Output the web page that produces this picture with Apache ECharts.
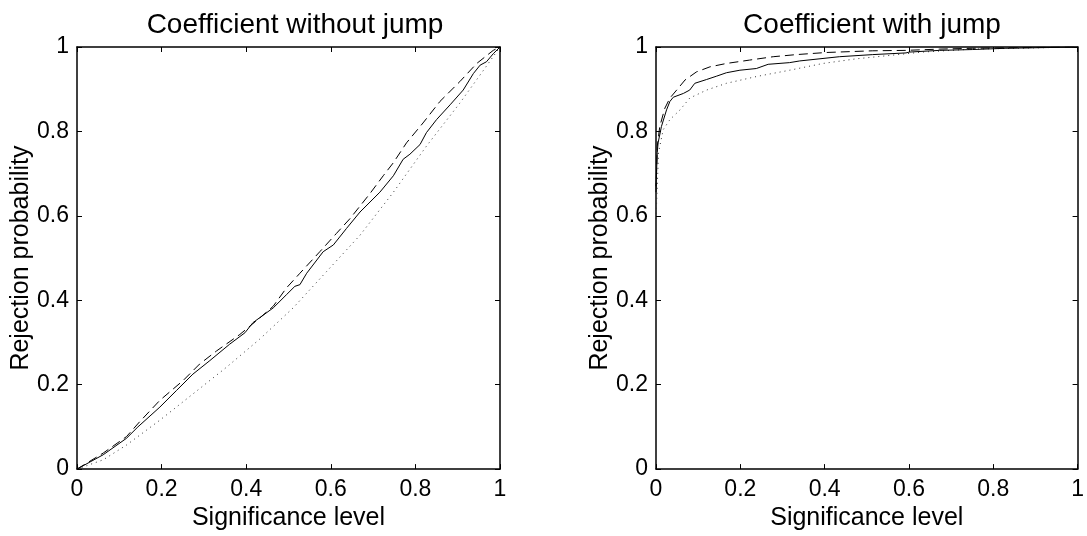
<!DOCTYPE html>
<html>
<head>
<meta charset="utf-8">
<script src="https://cdn.jsdelivr.net/npm/echarts@6/dist/echarts.min.js"></script>
<style>
  html, body { margin: 0; padding: 0; background: #fff; }
  #chart { width: 1087px; height: 536px; }
</style>
</head>
<body>
<div id="chart"></div>
<script>
// left panel: coefficient without jump  [significance level, rejection probability]
var noJumpSolid = [[0,0],[0.062,0.034],[0.117,0.073],[0.144,0.10],[0.196,0.147],[0.235,0.186],[0.274,0.225],
  [0.314,0.257],[0.361,0.296],[0.397,0.323],[0.416,0.347],[0.464,0.382],[0.495,0.413],[0.515,0.433],[0.527,0.437],
  [0.543,0.464],[0.582,0.515],[0.606,0.531],[0.637,0.570],[0.669,0.609],[0.716,0.656],[0.748,0.695],[0.771,0.734],
  [0.787,0.746],[0.811,0.769],[0.826,0.797],[0.850,0.828],[0.882,0.863],[0.913,0.898],[0.937,0.937],[0.953,0.957],
  [0.968,0.965],[0.984,0.984],[1,1]];
var noJumpDashed = [[0,0],[0.062,0.038],[0.117,0.077],[0.148,0.112],[0.196,0.163],[0.251,0.210],[0.290,0.249],
  [0.330,0.280],[0.385,0.319],[0.432,0.358],[0.464,0.386],[0.495,0.429],[0.527,0.464],[0.574,0.515],[0.613,0.558],
  [0.645,0.593],[0.692,0.652],[0.724,0.695],[0.748,0.726],[0.779,0.773],[0.818,0.820],[0.858,0.871],[0.905,0.918],
  [0.945,0.961],[0.984,0.992],[1,1]];
var noJumpDotted = [[0,0],[0.062,0.022],[0.117,0.057],[0.196,0.116],[0.274,0.178],[0.353,0.241],[0.432,0.308],
  [0.511,0.382],[0.590,0.468],[0.669,0.554],[0.748,0.656],[0.826,0.765],[0.905,0.867],[0.961,0.945],[1,1]];

// right panel: coefficient with jump
var jumpSolid = [[0,0.67],[0.003,0.75],[0.005,0.773],[0.013,0.812],[0.025,0.851],[0.033,0.871],[0.041,0.881],
  [0.065,0.890],[0.080,0.898],[0.092,0.914],[0.120,0.923],[0.144,0.931],[0.167,0.939],[0.199,0.945],[0.238,0.949],
  [0.266,0.959],[0.317,0.963],[0.341,0.967],[0.435,0.977],[0.514,0.982],[0.593,0.986],[0.601,0.988],[0.672,0.992],
  [0.751,0.994],[0.830,0.997],[1,1]];
var jumpDashed = [[0,0.656],[0.003,0.765],[0.009,0.812],[0.021,0.855],[0.033,0.879],[0.049,0.898],[0.069,0.922],
  [0.096,0.941],[0.128,0.953],[0.167,0.961],[0.222,0.969],[0.278,0.977],[0.333,0.982],[0.404,0.987],[0.514,0.991],
  [0.593,0.992],[0.672,0.995],[0.751,0.997],[1,1]];
var jumpDotted = [[0,0.593],[0.006,0.75],[0.017,0.804],[0.033,0.828],[0.057,0.851],[0.080,0.879],[0.120,0.898],
  [0.167,0.914],[0.238,0.930],[0.317,0.945],[0.396,0.961],[0.475,0.972],[0.554,0.980],[0.632,0.988],[0.751,0.995],[1,1]];

var titles = ['Coefficient without jump', 'Coefficient with jump'];
var xName = 'Significance level';
var yName = 'Rejection probability';

var font = 'Liberation Sans, Arial, sans-serif';
var chart = echarts.init(document.getElementById('chart'));

function xAx(gi, bottom) {
  return {
    type: 'value', gridIndex: gi, min: 0, max: 1, interval: 0.2,
    position: bottom ? 'bottom' : 'top',
    name: bottom ? xName : '', nameLocation: 'middle', nameGap: 29,
    nameTextStyle: { color: '#000', fontSize: 25, fontFamily: font },
    axisLine: { show: true, onZero: false, lineStyle: { color: '#000', width: 1.5 } },
    axisTick: { show: true, inside: true, length: 5, lineStyle: { color: '#000' } },
    axisLabel: { show: bottom, color: '#000', fontSize: 23, fontFamily: font, margin: 9 },
    splitLine: { show: false }
  };
}
function yAx(gi, left) {
  return {
    type: 'value', gridIndex: gi, min: 0, max: 1, interval: 0.2,
    position: left ? 'left' : 'right',
    name: left ? yName : '', nameLocation: 'middle', nameGap: 43,
    nameTextStyle: { color: '#000', fontSize: 25, fontFamily: font },
    axisLine: { show: true, onZero: false, lineStyle: { color: '#000', width: 1.5 } },
    axisTick: { show: true, inside: true, length: 5, lineStyle: { color: '#000' } },
    axisLabel: { show: left, color: '#000', fontSize: 23, fontFamily: font, margin: 8 },
    splitLine: { show: false }
  };
}
function line(xi, yi, data, type, color) {
  return {
    type: 'line', xAxisIndex: xi, yAxisIndex: yi, data: data, showSymbol: false, symbol: 'none',
    lineStyle: { color: color, width: 1, type: type }, silent: true
  };
}

chart.setOption({
  animation: false,
  backgroundColor: '#fff',
  title: [
    { text: titles[0], left: 290, top: 6, textAlign: 'center',
      textStyle: { color: '#000', fontSize: 28, fontWeight: 'normal', fontFamily: font } },
    { text: titles[1], left: 867, top: 6, textAlign: 'center',
      textStyle: { color: '#000', fontSize: 28, fontWeight: 'normal', fontFamily: font } }
  ],
  grid: [
    { left: 77, top: 47, width: 423, height: 426 },
    { left: 656, top: 47, width: 423, height: 426 }
  ],
  xAxis: [xAx(0, true), xAx(0, false), xAx(1, true), xAx(1, false)],
  yAxis: [yAx(0, true), yAx(0, false), yAx(1, true), yAx(1, false)],
  series: [
    line(0, 0, noJumpDotted, [1, 4], '#333'),
    line(0, 0, noJumpDashed, [9, 5], '#000'),
    line(0, 0, noJumpSolid, 'solid', '#000'),
    line(2, 2, jumpDotted, [1, 4], '#333'),
    line(2, 2, jumpDashed, [9, 5], '#000'),
    line(2, 2, jumpSolid, 'solid', '#000')
  ]
});
</script>
</body>
</html>
